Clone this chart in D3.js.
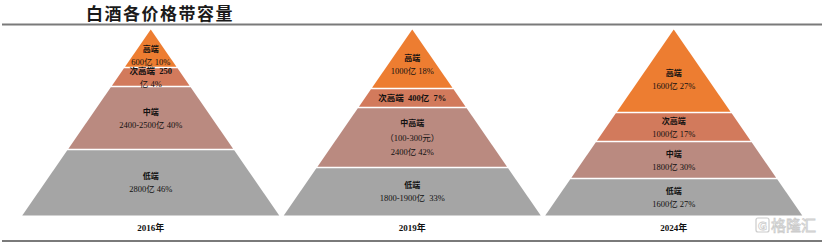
<!DOCTYPE html>
<html><head><meta charset="utf-8">
<script src="https://cdn.jsdelivr.net/npm/d3@7"></script>
<style>
html,body{margin:0;padding:0;background:#fff;}
svg{display:block;}
</style></head>
<body><svg id="c" width="830" height="244"></svg>
<script>
// ---- data ----
const title = "白酒各价格带容量";
const years = ["2016年", "2019年", "2024年"];
const tierColors = ["#ED7D31", "#D27A5C", "#BA8A80", "#A5A5A5"];
// relative band thickness of each tier (top to bottom), as drawn
const bands2016 = [38, 19, 63, 66];
const bands2019 = [59, 19, 60, 48];
const bands2024 = [83, 29, 37, 37];
// tier names
const names2016 = ["高端", "次高端", "中端", "低端"];
const names2019 = ["高端", "次高端", "中高端", "低端"];
const names2024 = ["高端", "次高端", "中端", "低端"];
// market size (亿) and share (%)
const size2016 = ["600", "250", "2400-2500", "2800"];
const share2016 = [10, 4, 40, 46];
const size2019 = ["1000", "400", "2400", "1800-1900"];
const share2019 = [18, 7, 42, 33];
const size2024 = ["1600", "1000", "1800", "1600"];
const share2024 = [27, 17, 30, 27];
const priceNote2019 = "（100-300元）";

// label lines per tier: [text, kind]
const labels2016 = [
  [[names2016[0], "n"], [size2016[0] + "亿 " + share2016[0] + "%", "v"]],
  [[names2016[1] + "  " + size2016[1], "m"], ["亿 " + share2016[1] + "%", "v"]],
  [[names2016[2], "n"], [size2016[2] + "亿 " + share2016[2] + "%", "v"]],
  [[names2016[3], "n"], [size2016[3] + "亿 " + share2016[3] + "%", "v"]]
];
const labels2019 = [
  [[names2019[0], "n"], [size2019[0] + "亿 " + share2019[0] + "%", "v"]],
  [[names2019[1] + "  " + size2019[1] + "亿  " + share2019[1] + "%", "m"]],
  [[names2019[2], "n"], [priceNote2019, "v"], [size2019[2] + "亿 " + share2019[2] + "%", "v"]],
  [[names2019[3], "n"], [size2019[3] + "亿  " + share2019[3] + "%", "v"]]
];
const labels2024 = [
  [[names2024[0], "n"], [size2024[0] + "亿 " + share2024[0] + "%", "v"]],
  [[names2024[1], "n"], [size2024[1] + "亿 " + share2024[1] + "%", "v"]],
  [[names2024[2], "n"], [size2024[2] + "亿 " + share2024[2] + "%", "v"]],
  [[names2024[3], "n"], [size2024[3] + "亿 " + share2024[3] + "%", "v"]]
];

const pyramids = [
  {year: years[0], bands: bands2016, labels: labels2016},
  {year: years[1], bands: bands2019, labels: labels2019},
  {year: years[2], bands: bands2024, labels: labels2024}
];

// ---- drawing ----
const svg = d3.select("#c");
const cjk = "'Noto Sans CJK SC','Noto Sans CJK JP',sans-serif";
const serif = "'Liberation Serif','Times New Roman','Noto Sans CJK SC',serif";

svg.append("text").attr("x", 160).attr("y", 19.5).attr("text-anchor", "middle")
  .attr("font-family", cjk).attr("font-weight", 700).attr("font-size", 17)
  .attr("letter-spacing", 1.5)
  .attr("fill", "#1a1a1a").text(title);

svg.append("line").attr("x1", 2).attr("x2", 822).attr("y1", 24.5).attr("y2", 24.5)
  .attr("stroke", "#7a7a7a").attr("stroke-width", 2);
svg.append("line").attr("x1", 2).attr("x2", 822).attr("y1", 241).attr("y2", 241)
  .attr("stroke", "#7a7a7a").attr("stroke-width", 2);

const x = d3.scaleBand().domain(years).range([20, 804.5]).padding(0);
const depthMax = 186;
const y = d3.scaleLinear().domain([0, depthMax]).range([29.5, 215.5]);
const half = d3.scaleLinear().domain([0, depthMax]).range([0, 128.5]);
const gap = 0.8;

pyramids.forEach(p => {
  const cx = x(p.year) + x.bandwidth() / 2;
  const cum = [0];
  p.bands.forEach((b, i) => cum.push(cum[i] + b));
  const g = svg.append("g");
  const layers = p.bands.map((b, i) => ({i, d0: cum[i], d1: cum[i + 1], lab: p.labels[i]}));
  g.selectAll("path.layer").data(layers).join("path")
    .attr("class", "layer")
    .attr("fill", d => tierColors[d.i])
    .attr("d", d => {
      const y0 = y(d.d0) + (d.i === 0 ? 0 : gap);
      const y1 = y(d.d1) - (d.i === layers.length - 1 ? 0 : gap);
      const h0 = half(y.invert(y0)), h1 = half(y.invert(y1));
      return `M${cx - h0},${y0}L${cx + h0},${y0}L${cx + h1},${y1}L${cx - h1},${y1}Z`;
    });

  layers.forEach(d => {
    const n = d.lab.length;
    const lh = n === 3 ? 14.5 : 13;
    let mid = (y(d.d0) + y(d.d1)) / 2;
    if (d.i === 0) mid = y(d.d0) + (y(d.d1) - y(d.d0)) * 0.6;
    if (d.i === 0 && p.year === years[0]) mid = y(d.d0) + (y(d.d1) - y(d.d0)) * 0.68;
    d.lab.forEach((ln, k) => {
      const yy = mid + (k - (n - 1) / 2) * lh + 3;
      const t = g.append("text").attr("x", cx).attr("y", yy).attr("text-anchor", "middle")
        .attr("fill", "#111").attr("xml:space", "preserve").style("white-space", "pre");
      if (ln[1] === "n") {
        t.attr("font-family", cjk).attr("font-weight", 700).attr("font-size", 8).text(ln[0]);
      } else if (ln[1] === "m") {
        t.attr("font-family", serif).attr("font-size", 8.5).attr("font-weight", 700).text(ln[0]);
      } else {
        t.attr("font-family", serif).attr("font-size", 8.5).text(ln[0]);
      }
    });
  });

  svg.append("text").attr("x", cx).attr("y", 230.5).attr("text-anchor", "middle")
    .attr("font-family", serif).attr("font-weight", 700).attr("font-size", 9)
    .attr("fill", "#111").text(p.year);
});

// watermark
const wm = svg.append("g").attr("opacity", 0.85);
wm.append("rect").attr("x", 756).attr("y", 218).attr("width", 13).attr("height", 14).attr("rx", 2)
  .attr("fill", "#fff").attr("stroke", "#c4c4c4").attr("stroke-width", 1.2);
wm.append("text").attr("x", 762.5).attr("y", 229.5).attr("text-anchor", "middle")
  .attr("font-family", "'DejaVu Sans',sans-serif").attr("font-weight", 700).attr("font-size", 11)
  .attr("fill", "#fff").attr("stroke", "#c4c4c4").attr("stroke-width", 0.8).text("G");
wm.append("text").attr("x", 771).attr("y", 231).attr("font-family", cjk).attr("font-size", 15)
  .attr("fill", "#fff").attr("stroke", "#c4c4c4").attr("stroke-width", 0.8).text("格隆汇");
</script></body></html>
